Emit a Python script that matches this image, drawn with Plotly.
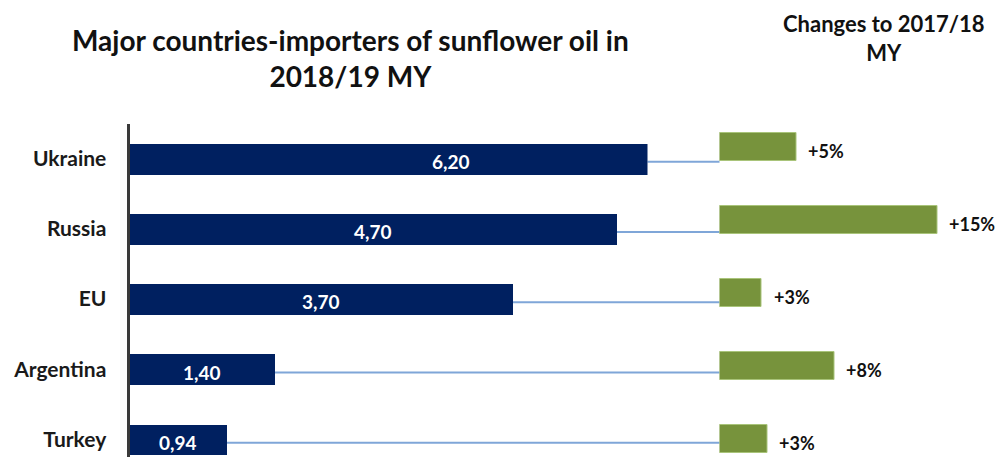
import plotly.graph_objects as go

# ---- data ----
countries = ["Ukraine", "Russia", "EU", "Argentina", "Turkey"]
imports_2018_19 = [6.20, 4.70, 3.70, 1.40, 0.94]          # navy bars
change_pct = [5.3, 15.0, 2.9, 7.9, 3.3]                    # green bars, % change to 2017/18
value_labels = ["6,20", "4,70", "3,70", "1,40", "0,94"]

W, H = 998, 457
NAVY = "#002060"
GREEN = "#77933C"
LINE = "#7fa6d8"
FONT = "Lato"

# geometry (paper fractions)
x1_dom = [129.5 / W, 647.5 / W]
x1_rng = [0, 5.0]
x2_dom = [719.5 / W, 1.0]
x2_rng = [0, (W - 719.5) / 14.5]
y1_dom = [0, (H - 123.5) / H]
y1_rng = [4 + (H - 439.5) / 70.25, -0.5]
y2_dom = [0, 1]
y2_rng = [4 + (H - 439.0) / 73.0, -147.0 / 73.0]

idx = list(range(len(countries)))

fig = go.Figure()
fig.add_trace(go.Bar(
    y=idx, x=imports_2018_19, orientation="h", marker_color=NAVY,
    marker_line_width=0, width=0.44, xaxis="x", yaxis="y", showlegend=False,
    hoverinfo="skip"))
fig.add_trace(go.Bar(
    y=idx, x=change_pct, orientation="h", marker_color=GREEN,
    marker_line=dict(color="#a9c47a", width=1), width=0.38,
    xaxis="x2", yaxis="y2", showlegend=False, hoverinfo="skip"))


def px1(v):
    v = min(max(v, x1_rng[0]), x1_rng[1])
    return x1_dom[0] + (v - x1_rng[0]) / (x1_rng[1] - x1_rng[0]) * (x1_dom[1] - x1_dom[0])


def px2(v):
    return x2_dom[0] + (v - x2_rng[0]) / (x2_rng[1] - x2_rng[0]) * (x2_dom[1] - x2_dom[0])


shapes = []
annotations = []
for i, (c, v, p, lab) in enumerate(zip(countries, imports_2018_19, change_pct, value_labels)):
    # connector line
    shapes.append(dict(type="line", xref="paper", yref="y",
                       x0=px1(v), x1=px2(0), y0=i + 0.045, y1=i + 0.045,
                       line=dict(color=LINE, width=2), layer="below"))
    # value label in navy bar
    annotations.append(dict(x=v / 2, y=i + 0.04, xref="x", yref="y", text=lab,
                            showarrow=False,
                            font=dict(family=FONT, size=19, color="white", weight="bold"),
                            xanchor="center", yanchor="middle"))
    # change label
    annotations.append(dict(x=p, y=i + 0.05, xref="x2", yref="y2", text=f"+{round(p)}%",
                            showarrow=False, xshift=10, xanchor="left", yanchor="middle",
                            font=dict(family=FONT, size=18, color="#111111", weight="bold")))

annotations.append(dict(x=350 / W, y=1 - 58 / H, xref="paper", yref="paper",
                        text="Major countries-importers of sunflower oil in<br>2018/19 MY",
                        showarrow=False, xanchor="center", yanchor="middle",
                        font=dict(family=FONT, size=28, color="#111111", weight="bold")))
annotations.append(dict(x=884 / W, y=1 - 38 / H, xref="paper", yref="paper",
                        text="Changes to 2017/18<br>MY",
                        showarrow=False, xanchor="center", yanchor="middle",
                        font=dict(family=FONT, size=22, color="#111111", weight="bold")))

fig.update_layout(
    width=W, height=H, margin=dict(l=0, r=0, t=0, b=0),
    paper_bgcolor="white", plot_bgcolor="rgba(0,0,0,0)",
    bargap=0, hovermode=False,
    xaxis=dict(domain=x1_dom, range=x1_rng, visible=False, fixedrange=True),
    yaxis=dict(domain=y1_dom, range=y1_rng, tickvals=idx, ticktext=countries,
               showline=True, linecolor="#3a3a3a", linewidth=3, showgrid=False,
               zeroline=False, ticks="", ticklabelstandoff=16, fixedrange=True,
               tickfont=dict(family=FONT, size=21, color="#1a1a1a", weight="bold")),
    xaxis2=dict(domain=x2_dom, range=x2_rng, visible=False, anchor="y2", fixedrange=True),
    yaxis2=dict(domain=y2_dom, range=y2_rng, visible=False, anchor="x2", fixedrange=True),
    shapes=shapes, annotations=annotations,
)

fig.write_html("out.html", config={"displayModeBar": False},
               post_script="document.body.style.margin='0';document.body.style.overflow='hidden';")
